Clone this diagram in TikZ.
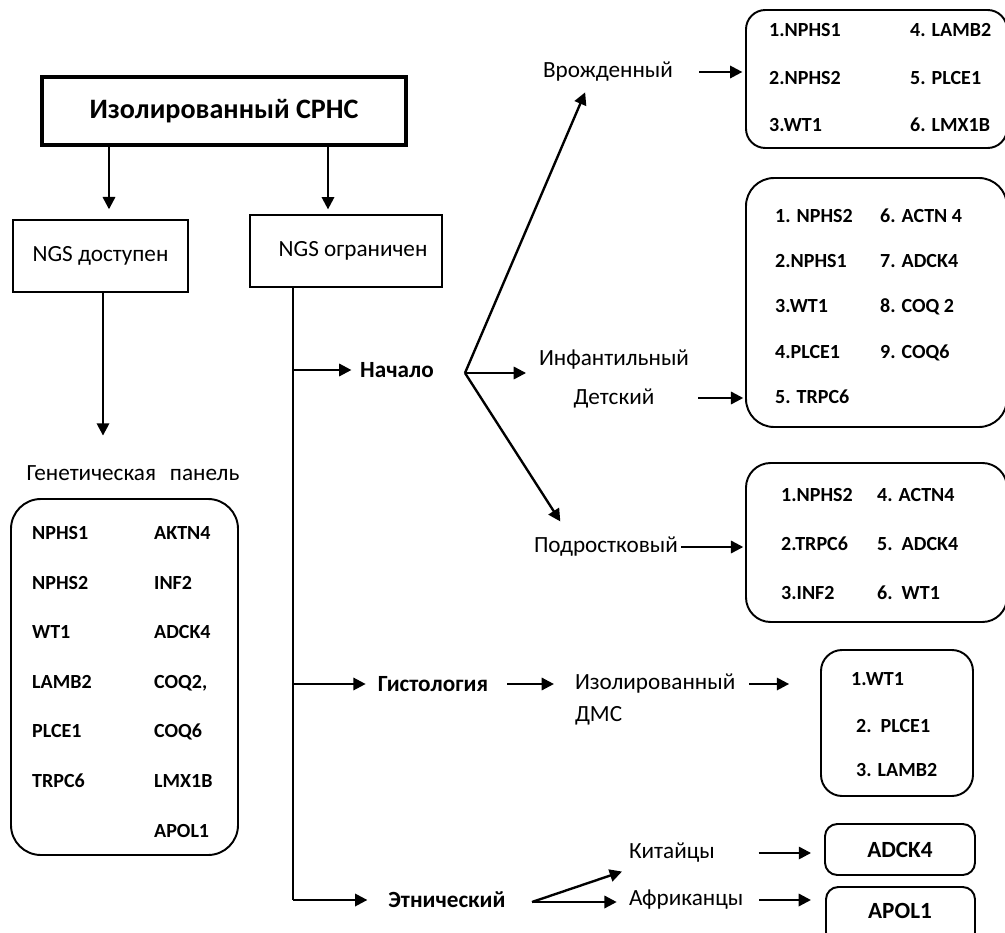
\documentclass[tikz,border=0pt]{standalone}
\usepackage{fontspec}
\setmainfont{Carlito}
\usetikzlibrary{arrows.meta}
\usetikzlibrary{positioning}
\usetikzlibrary{fit}

\begin{document}
\begin{tikzpicture}[x=0.02cm, y=-0.02cm, line width=1.35pt,
  arr/.style={-{Triangle[length=7pt,width=7pt]}},
  lbl/.style={font=\fontsize{13.2}{15}\selectfont},
  head/.style={font=\fontsize{13.2}{15}\selectfont\bfseries},
  gene/.style={font=\fontsize{11.4}{13}\selectfont\bfseries, inner sep=0pt, anchor=base west, yshift=-3.7pt},
  plainbox/.style={draw, line width=0.8pt, inner sep=0pt},
  genebox/.style={draw, line width=1.1pt, rounded corners=#1, inner sep=0pt}]
\useasboundingbox (0,0) rectangle (1005,933);

\node[draw, line width=2pt, minimum width=7.28cm, minimum height=1.36cm,
  font=\fontsize{16}{19}\selectfont\bfseries] (title) at (224,111) {Изолированный СРНС};
\node[plainbox, minimum width=3.5cm, minimum height=1.44cm, lbl] (avail) at (100.5,256) {NGS доступен};
\node[plainbox, minimum width=3.84cm, minimum height=1.44cm, lbl] (limit) at (346,251) {\hspace{8pt}NGS ограничен};

\coordinate (colA) at (109,0);
\coordinate (colB) at (328,0);
\coordinate (colC) at (103,0);
\coordinate (trunk) at (293,287);
\draw[arr, shorten >=5.7pt] (title.south -| colA) -- (avail.north -| colA);
\draw[arr, shorten >=2.8pt] (title.south -| colB) -- (limit.north -| colB);

% left column
\node[lbl] (panelhead) at (133,473) {Генетическая\hspace{0.6em}панель};
\draw[arr, shorten >=13pt] (avail.south -| colC) -- (panelhead.north -| colC);
\node[genebox=17pt, fit={(11,499) (238,855)}] (panel) {};
\foreach \g [count=\i from 0] in {NPHS1,NPHS2,WT1,LAMB2,PLCE1,TRPC6}
  \node[gene] (pa\i) at (31,{533+49.6*\i}) {\g};
\foreach \g [count=\i from 0] in {AKTN4,INF2,ADCK4,{COQ2,},COQ6,LMX1B,APOL1}
  \node[gene] (pb\i) at (153,{533+49.6*\i}) {\g};

% trunk and branches
\node[head] (onset) at (397,370) {Начало};
\node[head] (histo) at (433,684) {Гистология};
\node[head] (ethnic) at (447,900) {Этнический};
\draw (trunk) -- (trunk |- ethnic);
\draw[arr, shorten >=1pt] (trunk |- onset) -- (onset.west);
\draw[arr, shorten >=3pt] (trunk |- histo) -- (histo.west);
\draw[arr, shorten >=8pt] (trunk |- ethnic) -- (ethnic.west);

% onset
\coordinate (fork1) at (465,373);
\node[lbl] (born) at (608,72) {Врожденный};
\node[lbl] (infant) at (614,360) {Инфантильный};
\node[lbl] (kid) at (614,398) {Детский};
\node[lbl] (teen) at (606,547) {Подростковый};
\draw[arr] (fork1) -- ([xshift=-13pt,yshift=-2pt]born.south);
\draw[arr, shorten >=3.4pt] (fork1) -- (infant.west |- fork1);
\draw[arr] (fork1) -- ([xshift=-26pt,yshift=5pt]teen.north);

\node[genebox=11pt, fit={(746,10) (1007,148)}] (box1) {};
\foreach \g [count=\i from 0] in {1.NPHS1,2.NPHS2,3.WT1}
  \node[gene] (ba\i) at (768,{30+47.5*\i}) {\g};
\foreach \g [count=\i from 0] in {4. LAMB2,5. PLCE1,6. LMX1B}
  \node[gene] (bb\i) at (909,{30+47.5*\i}) {\g};
\draw[arr, shorten <=11pt, shorten >=1.5pt] (born.east) -- (box1.west |- born.east);

\node[genebox=16pt, fit={(746,178) (1007,427)}] (box2) {};
\foreach \g [count=\i from 0] in {1. NPHS2,2.NPHS1,3.WT1,4.PLCE1,5. TRPC6}
  \node[gene] (ca\i) at (774,{216+45.2*\i}) {\g};
\foreach \g [count=\i from 0] in {6. ACTN 4,7. ADCK4,8. COQ 2,9. COQ6}
  \node[gene] (cb\i) at (879,{216+45.2*\i}) {\g};
\draw[arr, shorten <=21pt, shorten >=1pt] (kid.east) -- (box2.west |- kid.east);

\node[genebox=14pt, fit={(746,463) (1007,622)}] (box3) {};
\foreach \g [count=\i from 0] in {1.NPHS2,2.TRPC6,3.INF2}
  \node[gene] (da\i) at (780,{495+49*\i}) {\g};
\foreach \g [count=\i from 0] in {4. ACTN4,5.\ \ ADCK4,6.\ \ WT1}
  \node[gene] (db\i) at (876,{495+49*\i}) {\g};
\draw[arr, shorten <=-2pt, shorten >=1pt] (teen.east) -- (box3.west |- teen.east);

% histology
\node[lbl, anchor=west] (isol) at (568,684) {Изолированный};
\node[lbl, anchor=west] (dms) at (568,716) {ДМС};
\draw[arr, shorten <=7pt, shorten >=8pt] (histo.east) -- (isol.west);
\node[genebox=12pt, fit={(821,650) (973,796)}] (box4) {};
\node[gene] (ea0) at (850,679) {1.WT1};
\node[gene] (ea1) at (855,726) {2.\ \ PLCE1};
\node[gene] (ea2) at (855,770) {3. LAMB2};
\draw[arr, shorten <=4pt, shorten >=17.6pt] (isol.east) -- (box4.west |- isol.east);

% ethnic
\coordinate (fork2) at (532,902);
\node[lbl, anchor=west] (chinese) at (622,853) {Китайцы};
\node[lbl, anchor=west] (african) at (622,900) {Африканцы};
\draw[arr] (fork2) -- ([yshift=-1pt]chinese.south west);
\draw[arr, shorten >=3pt] (fork2) -- (african.west |- fork2);
\node[genebox=7pt, minimum width=3cm, minimum height=1.02cm, head] (adck) at (900,849.5) {ADCK4};
\node[genebox=7pt, fit={(826,887) (975,945)}] (apol) {};
\node[head] (apoltext) at (900,911) {APOL1};
\draw[arr, shorten <=21pt, shorten >=7.4pt] (chinese.east) -- (adck.west |- chinese.east);
\draw[arr, shorten <=5pt, shorten >=8pt] (african.east) -- (apol.west |- african.east);
\end{tikzpicture}
\end{document}
